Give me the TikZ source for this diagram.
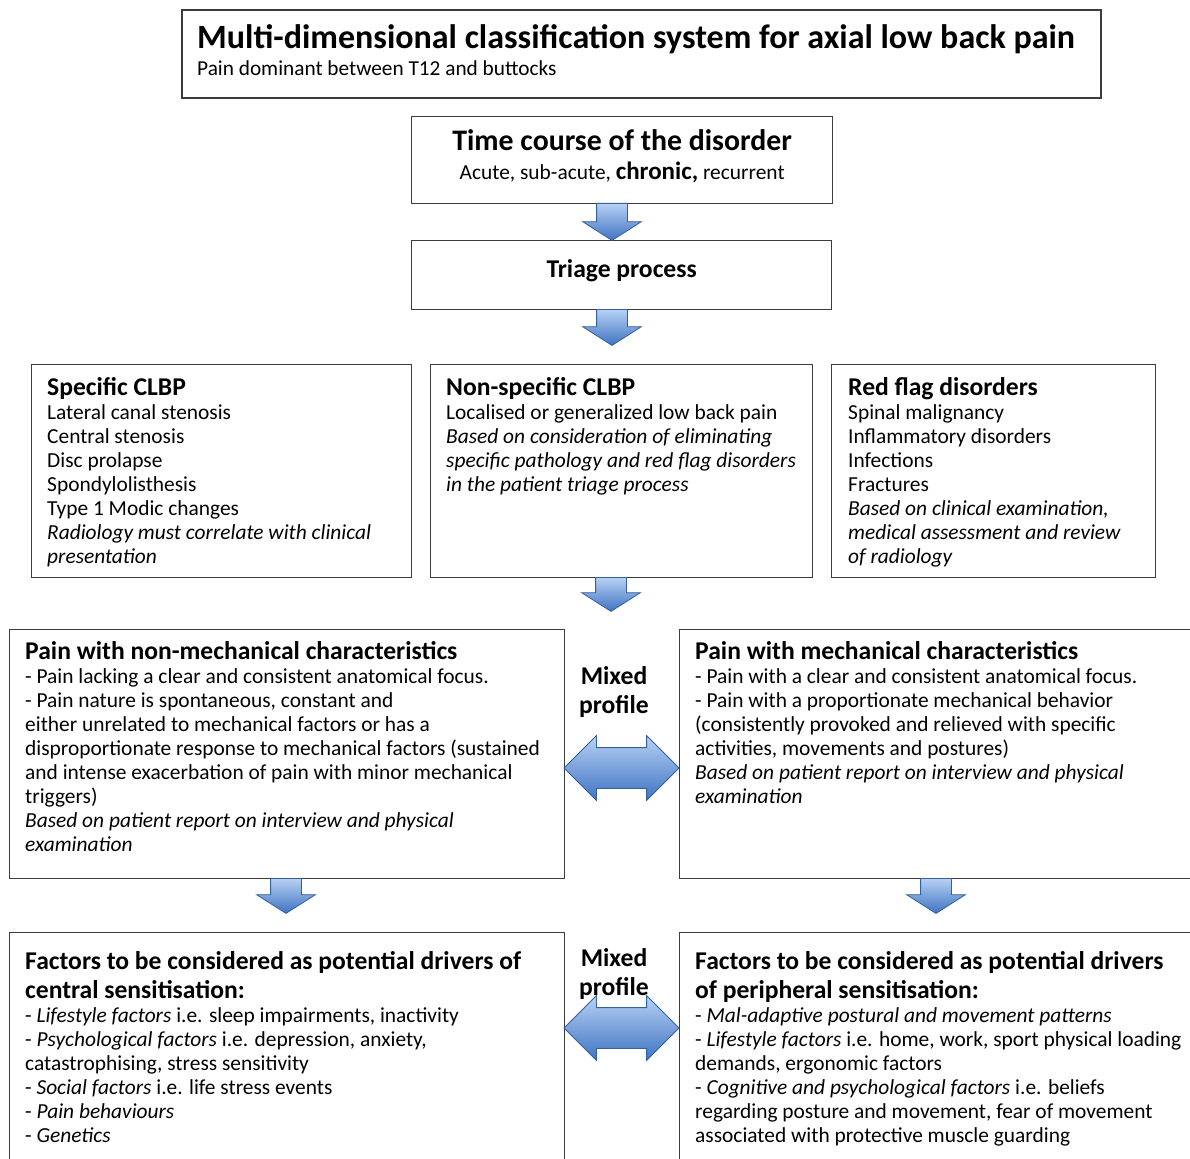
\documentclass[tikz,border=0pt]{standalone}
\usepackage{fontspec}
\setmainfont{Carlito}
\usepackage{xcolor}
\usepackage{tikz}
\usetikzlibrary{positioning,shapes.arrows}

\definecolor{framegray}{HTML}{3C3C3C}
\definecolor{arrowlight}{HTML}{B7D1F4}
\definecolor{arrowdark}{HTML}{3F73C2}
\definecolor{arrowedge}{HTML}{34609F}

\newcommand{\bodyfont}{\fontsize{21.4}{24}\selectfont}
\newcommand{\headfont}{\fontsize{25.6}{29}\selectfont\bfseries}

\begin{document}
\begin{tikzpicture}[x=1pt, y=-1pt,
                    box/.style={draw=framegray, line width=1.3pt, inner sep=0pt, anchor=north west},
                    txt/.style={inner sep=0pt, align=left, font=\bodyfont},
                    downarrow/.style={single arrow, draw=arrowedge, line width=0.8pt,
                                      top color=arrowlight, bottom color=arrowdark,
                                      rotate=-90, anchor=tail, inner xsep=0pt, inner ysep=15pt,
                                      single arrow head extend=14pt,
                                      single arrow tip angle=115},
                    bothways/.style={double arrow, draw=arrowedge, line width=0.8pt,
                                     top color=arrowlight, bottom color=arrowdark,
                                     inner xsep=0pt, inner ysep=20pt, minimum height=115pt,
                                     double arrow head extend=12pt, double arrow tip angle=90}]
  \clip (0,0) rectangle (1190,1158);

  % frames
  \node[box, line width=1.8pt, minimum width=919, minimum height=88] (title) at (181,9) {};
  \node[box, minimum width=421, minimum height=87] (time) at (411,116) {};
  \node[box, minimum width=420, minimum height=69] (triage) at (411,240) {};
  \node[box, minimum width=380, minimum height=213] (spec) at (31,364) {};
  \node[box, minimum width=382, minimum height=213] (nonspec) at (430,364) {};
  \node[box, minimum width=324, minimum height=213] (redflag) at (831,364) {};
  \node[box, minimum width=555, minimum height=249] (nonmech) at (9,629) {};
  \node[box, minimum width=560, minimum height=249] (mech) at (679,629) {};
  \node[box, minimum width=555, minimum height=260] (central) at (9,932) {};
  \node[box, minimum width=560, minimum height=260] (periph) at (679,932) {};

  % block arrows
  \node[downarrow, minimum height=37pt] (arr1) at (612,203) {};
  \node[downarrow, minimum height=36pt] (arr2) at (612,309) {};
  \node[downarrow, minimum height=34pt] (arr3) at (611,577) {};
  \node[downarrow, minimum height=35pt] (arr4) at (286,878) {};
  \node[downarrow, minimum height=35pt] (arr5) at (936,878) {};
  \node[bothways] (mixarr1) at (621.5,768) {};
  \node[bothways] (mixarr2) at (621.5,1028) {};

  % texts
  \node[txt, font=\fontsize{21.3}{27}\selectfont, anchor=north west] (titletxt) at (197,24)
    {{\fontsize{34}{38}\selectfont\bfseries Multi-dimensional classification system for axial low back pain}\\
     Pain dominant between T12 and buttocks};
  \node[txt, align=center, font=\fontsize{21.4}{29}\selectfont, below=13pt of time.north] (timetxt)
    {{\fontsize{29.8}{32}\selectfont\bfseries Time course of the disorder}\\
     Acute, sub-acute, {\fontsize{25}{29}\selectfont\bfseries chronic,} recurrent};
  \node[txt, font=\headfont] (triagetxt) at ([yshift=4pt]triage.center) {Triage process};

  \node[txt, below right=13pt and 16pt of spec.north west] (spectxt)
    {{\headfont Specific CLBP}\\
     Lateral canal stenosis\\
     Central stenosis\\
     Disc prolapse\\
     Spondylolisthesis\\
     Type 1 Modic changes\\
     \textit{Radiology must correlate with clinical}\\
     \textit{presentation}};
  \node[txt, below right=13pt and 16pt of nonspec.north west] (nonspectxt)
    {{\headfont Non-specific CLBP}\\
     Localised or generalized low back pain\\
     \textit{Based on consideration of eliminating}\\
     \textit{specific pathology and red flag disorders}\\
     \textit{in the patient triage process}};
  \node[txt, below right=13pt and 17pt of redflag.north west] (redflagtxt)
    {{\headfont Red flag disorders}\\
     Spinal malignancy\\
     Inflammatory disorders\\
     Infections\\
     Fractures\\
     \textit{Based on clinical examination,}\\
     \textit{medical assessment and review}\\
     \textit{of radiology}};

  \node[txt, below right=12pt and 16pt of nonmech.north west] (nonmechtxt)
    {{\headfont Pain with non-mechanical characteristics}\\
     - Pain lacking a clear and consistent anatomical focus.\\
     - Pain nature is spontaneous, constant and\\
     either unrelated to mechanical factors or has a\\
     disproportionate response to mechanical factors (sustained\\
     and intense exacerbation of pain with minor mechanical\\
     triggers)\\
     \textit{Based on patient report on interview and physical}\\
     \textit{examination}};
  \node[txt, below right=12pt and 16pt of mech.north west] (mechtxt)
    {{\headfont Pain with mechanical characteristics}\\
     - Pain with a clear and consistent anatomical focus.\\
     - Pain with a proportionate mechanical behavior\\
     (consistently provoked and relieved with specific\\
     activities, movements and postures)\\
     \textit{Based on patient report on interview and physical}\\
     \textit{examination}};
  \node[txt, align=center, font=\headfont, anchor=north] (mixtxt1) at (614,666) {Mixed\\profile};

  \node[txt, below right=19pt and 16pt of central.north west] (centraltxt)
    {{\headfont Factors to be considered as potential drivers of}\\[5pt]
     {\headfont central sensitisation:}\\
     - \textit{Lifestyle factors} i.e. sleep impairments, inactivity\\
     - \textit{Psychological factors} i.e. depression, anxiety,\\
     catastrophising, stress sensitivity\\
     - \textit{Social factors} i.e. life stress events\\
     - \textit{Pain behaviours}\\
     - \textit{Genetics}};
  \node[txt, below right=19pt and 16pt of periph.north west] (periphtxt)
    {{\headfont Factors to be considered as potential drivers}\\[5pt]
     {\headfont of peripheral sensitisation:}\\
     - \textit{Mal-adaptive postural and movement patterns}\\
     - \textit{Lifestyle factors} i.e. home, work, sport physical loading\\
     demands, ergonomic factors\\
     - \textit{Cognitive and psychological factors} i.e. beliefs\\
     regarding posture and movement, fear of movement\\
     associated with protective muscle guarding};
  \node[txt, align=center, font=\headfont, anchor=north] (mixtxt2) at (614,948) {Mixed\\profile};
\end{tikzpicture}
\end{document}
